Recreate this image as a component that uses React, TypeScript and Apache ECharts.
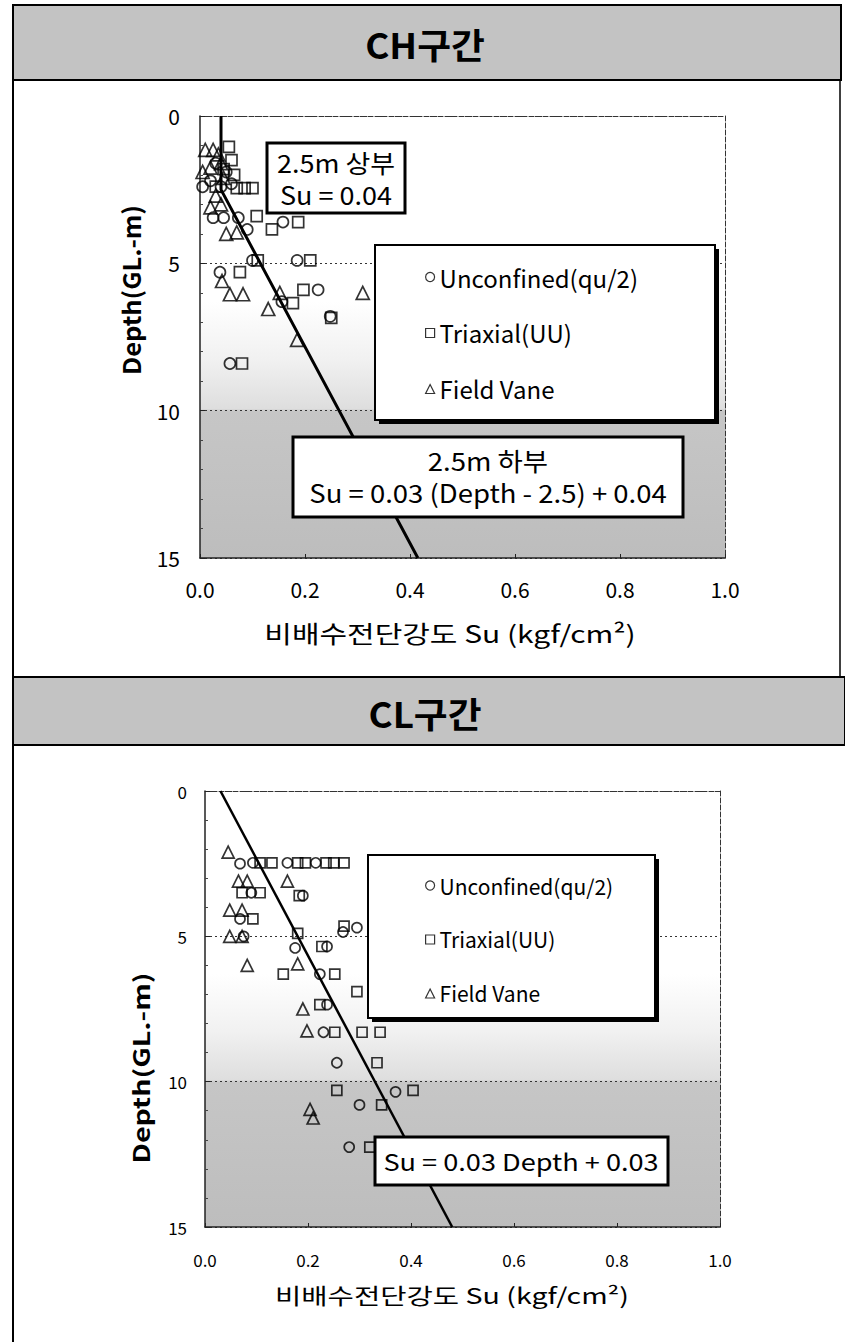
import React, { useEffect, useRef } from "react";
import * as echarts from "echarts";

const FONT = '"Noto Sans CJK KR", "Noto Sans", sans-serif';

// ---- CH section (top) ----
const CH_TITLE = "CH구간";
const CH_UNCONFINED: number[][] = [
  [0.03, 1.6], [0.05, 1.9], [0.02, 2.2], [0.005, 2.4], [0.04, 2.4], [0.06, 2.3],
  [0.025, 3.45], [0.045, 3.45], [0.073, 3.45], [0.158, 3.6], [0.09, 3.85],
  [0.1, 4.9], [0.185, 4.9], [0.038, 5.3], [0.225, 5.9], [0.156, 6.3], [0.248, 6.8], [0.057, 8.4],
];
const CH_TRIAXIAL: number[][] = [
  [0.055, 1.05], [0.06, 1.5], [0.045, 1.8], [0.065, 2.0], [0.03, 2.4], [0.07, 2.45],
  [0.085, 2.45], [0.1, 2.45], [0.108, 3.4], [0.137, 3.85], [0.187, 3.6], [0.11, 4.9],
  [0.21, 4.9], [0.076, 5.3], [0.197, 5.9], [0.177, 6.35], [0.25, 6.85], [0.08, 8.4],
];
const CH_VANE: number[][] = [
  [0.01, 1.15], [0.025, 1.15], [0.035, 1.3], [0.04, 1.6], [0.02, 1.75], [0.005, 1.9],
  [0.045, 2.1], [0.03, 2.7], [0.02, 3.1], [0.04, 3.0], [0.05, 4.0], [0.07, 3.95],
  [0.042, 5.6], [0.057, 6.05], [0.082, 6.05], [0.152, 6.0], [0.31, 6.0], [0.13, 6.55], [0.185, 7.6],
];
const CH_FIT_SU = [0.04, 0.04, 0.415];
const CH_FIT_DEPTH = [0, 2.5, 15];
const CH_NOTE_UPPER = "2.5m 상부\nSu = 0.04";
const CH_NOTE_LOWER = "2.5m 하부\nSu = 0.03 (Depth - 2.5) + 0.04";

// ---- CL section (bottom) ----
const CL_TITLE = "CL구간";
const CL_UNCONFINED: number[][] = [
  [0.068, 2.5], [0.093, 2.47], [0.16, 2.47], [0.215, 2.47], [0.09, 3.5], [0.19, 3.6],
  [0.068, 4.4], [0.075, 5.0], [0.175, 5.4], [0.237, 5.35], [0.295, 4.7], [0.268, 4.85],
  [0.223, 6.3], [0.237, 7.35], [0.23, 8.3], [0.256, 9.35], [0.37, 10.35], [0.3, 10.8], [0.28, 12.25],
];
const CL_TRIAXIAL: number[][] = [
  [0.107, 2.47], [0.13, 2.47], [0.18, 2.47], [0.195, 2.47], [0.235, 2.47], [0.25, 2.47],
  [0.27, 2.47], [0.072, 3.5], [0.107, 3.5], [0.183, 3.6], [0.093, 4.4], [0.18, 4.9],
  [0.227, 5.35], [0.27, 4.65], [0.152, 6.3], [0.252, 6.3], [0.295, 6.9], [0.223, 7.35],
  [0.252, 8.3], [0.305, 8.3], [0.34, 8.3], [0.334, 9.35], [0.256, 10.3], [0.404, 10.3],
  [0.343, 10.8], [0.32, 12.25],
];
const CL_VANE: number[][] = [
  [0.045, 2.1], [0.065, 3.1], [0.082, 3.1], [0.16, 3.1], [0.048, 4.1], [0.072, 4.1],
  [0.048, 5.0], [0.072, 5.0], [0.082, 6.0], [0.18, 5.95], [0.19, 7.5], [0.198, 8.25],
  [0.204, 10.95], [0.21, 11.25],
];
const CL_FIT_SU = [0.03, 0.48];
const CL_FIT_DEPTH = [0, 15];
const CL_NOTE = "Su = 0.03 Depth + 0.03";

// ---- shared ----
const SERIES_NAMES = ["Unconfined(qu/2)", "Triaxial(UU)", "Field Vane"];
const SYMBOLS = ["circle", "rect", "triangle"];
const X_TICKS = [0, 0.2, 0.4, 0.6, 0.8, 1.0];
const Y_TICKS = [0, 5, 10, 15];
const X_NAME = "비배수전단강도 Su (kgf/cm²)";
const Y_NAME = "Depth(GL.-m)";

const bgGradient = {
  type: "linear", x: 0, y: 0, x2: 0, y2: 1,
  colorStops: [
    { offset: 0, color: "#ffffff" },
    { offset: 0.42, color: "#ffffff" },
    { offset: 0.55, color: "#f1f1f1" },
    { offset: 0.662, color: "#dedede" },
    { offset: 0.668, color: "#c6c6c6" },
    { offset: 1, color: "#bdbdbd" },
  ],
};

function zip(a: number[], b: number[]) {
  return a.map((v, i) => [v, b[i]]);
}

export default function App() {
  const ref = useRef<HTMLDivElement>(null);
  useEffect(() => {
    document.body.style.margin = "0";
    const chart = echarts.init(ref.current!, undefined, { renderer: "svg" });

    const scatter = (name: string, sym: string, data: number[][], idx: number, size: number) => ({
      name, type: "scatter", xAxisIndex: idx, yAxisIndex: idx, data,
      symbol: sym, symbolSize: sym === "triangle" ? size + 2 : size,
      itemStyle: { color: "rgba(255,255,255,0)", borderColor: "#000", borderWidth: 1.7 },
      z: 3,
    });

    const xAxis = (idx: number, fs: number, margin: number) => ({
      type: "value", gridIndex: idx, min: X_TICKS[0], max: X_TICKS[X_TICKS.length - 1], interval: 0.2,
      axisLine: { show: true, onZero: false, lineStyle: { color: "#222", width: 1.5 } },
      axisTick: { show: true, inside: true, length: 4, lineStyle: { color: "#222" } },
      axisLabel: { fontSize: fs, color: "#000", fontFamily: FONT, margin, formatter: (v: number) => v.toFixed(1) },
      splitLine: { show: false },
    });
    const xAxisTop = (idx: number) => ({
      type: "value", gridIndex: idx, position: "top", min: X_TICKS[0], max: X_TICKS[X_TICKS.length - 1], interval: 0.2,
      axisLine: { show: true, onZero: false, lineStyle: { color: "#333", width: 1, type: [5, 2] } },
      axisTick: { show: false }, axisLabel: { show: false }, splitLine: { show: false },
    });
    const yAxis = (idx: number, fs: number, margin: number) => ({
      type: "value", gridIndex: idx, inverse: true, min: Y_TICKS[0], max: Y_TICKS[Y_TICKS.length - 1], interval: 5,
      axisLine: { show: true, onZero: false, lineStyle: { color: "#222", width: 1.5 } },
      axisTick: { show: true, inside: true, length: 5, lineStyle: { color: "#222" } },
      minorTick: { show: true, splitNumber: 5, length: 3, lineStyle: { color: "#444" } },
      axisLabel: { fontSize: fs, color: "#000", fontFamily: FONT, margin },
      splitLine: { show: true, lineStyle: { color: "#333", type: [2, 3], width: 1 } },
    });
    const yAxisRight = (idx: number) => ({
      type: "value", gridIndex: idx, position: "right", inverse: true, min: Y_TICKS[0], max: Y_TICKS[Y_TICKS.length - 1], interval: 5,
      axisLine: { show: true, onZero: false, lineStyle: { color: "#333", width: 1, type: [5, 2] } },
      axisTick: { show: false }, axisLabel: { show: false }, splitLine: { show: false },
    });

    const text = (x: number, y: number, t: string, fs: number, extra: any = {}, scaleX = 1) => ({
      type: "text", x, y, z: 120, scaleX,
      style: { text: t, fontSize: fs, fontFamily: FONT, fill: "#000", align: "center", verticalAlign: "middle", ...extra },
    });
    const rect = (x: number, y: number, w: number, h: number, style: any, z = 100) => ({
      type: "rect", shape: { x, y, width: w, height: h }, z, style,
    });

    const legend = (left: number, top: number, fs: number, gap: number, iconSize: number) => ({
      orient: "vertical", left, top, itemGap: gap, itemWidth: iconSize, itemHeight: iconSize,
      selectedMode: false, z: 130, backgroundColor: "transparent",
      textStyle: { fontSize: fs, fontFamily: FONT, color: "#000" },
      itemStyle: { color: "#fff", borderColor: "#000", borderWidth: 1.2 },
      data: SERIES_NAMES.map((n, i) => ({ name: n, icon: SYMBOLS[i] })),
    });

    const option: any = {
      animation: false,
      backgroundColor: "#fff",
      grid: [
        { left: 200, top: 116, width: 525, height: 442, show: true, borderWidth: 0, backgroundColor: bgGradient },
        { left: 205, top: 791, width: 515, height: 436, show: true, borderWidth: 0, backgroundColor: bgGradient },
      ],
      xAxis: [xAxis(0, 21, 20), xAxis(1, 17, 24), xAxisTop(0), xAxisTop(1)],
      yAxis: [yAxis(0, 21, 20), yAxis(1, 17, 18), yAxisRight(0), yAxisRight(1)],
      legend: [legend(420, 260, 24, 32, 9), legend(420, 870, 21, 33, 9)],
      series: [
        scatter(SERIES_NAMES[0], SYMBOLS[0], CH_UNCONFINED, 0, 11),
        scatter(SERIES_NAMES[1], SYMBOLS[1], CH_TRIAXIAL, 0, 11),
        scatter(SERIES_NAMES[2], SYMBOLS[2], CH_VANE, 0, 11),
        {
          name: "CH fit", type: "line", xAxisIndex: 0, yAxisIndex: 0, data: zip(CH_FIT_SU, CH_FIT_DEPTH),
          showSymbol: false, symbol: "none", lineStyle: { color: "#000", width: 3 }, z: 5,
        },
        scatter(SERIES_NAMES[0], SYMBOLS[0], CL_UNCONFINED, 1, 10),
        scatter(SERIES_NAMES[1], SYMBOLS[1], CL_TRIAXIAL, 1, 10),
        scatter(SERIES_NAMES[2], SYMBOLS[2], CL_VANE, 1, 10),
        {
          name: "CL fit", type: "line", xAxisIndex: 1, yAxisIndex: 1, data: zip(CL_FIT_SU, CL_FIT_DEPTH),
          showSymbol: false, symbol: "none", lineStyle: { color: "#000", width: 2.5 }, z: 5,
        },
      ],
      graphic: [
        // frame
        { type: "line", shape: { x1: 13, y1: 5, x2: 13, y2: 1342 }, z: 50, style: { stroke: "#000", lineWidth: 2 } },
        { type: "line", shape: { x1: 840, y1: 80, x2: 840, y2: 677 }, z: 50, style: { stroke: "#000", lineWidth: 1.5 } },
        // header bands
        rect(13, 5, 828, 75, { fill: "#c3c3c3", stroke: "#000", lineWidth: 2 }, 60),
        text(425, 43, CH_TITLE, 35, { fontWeight: "bold" }, 1.05),
        rect(13, 677, 832, 68, { fill: "#c3c3c3", stroke: "#000", lineWidth: 2 }, 60),
        text(425, 712, CL_TITLE, 35, { fontWeight: "bold" }, 1.05),
        // axis names (top)
        { ...text(130, 290, Y_NAME, 24, { fontWeight: "bold" }, 1.06), rotation: Math.PI / 2 },
        text(450, 632, X_NAME, 24, {}, 1.25),
        // axis names (bottom)
        { ...text(140, 1068, Y_NAME, 22, { fontWeight: "bold" }, 1.3), rotation: Math.PI / 2 },
        text(452, 1294, X_NAME, 22, {}, 1.3),
        // top notes
        rect(267, 143, 138, 70, { fill: "#fff", stroke: "#000", lineWidth: 3 }),
        text(336, 178, CH_NOTE_UPPER, 25, { lineHeight: 32 }, 1.08),
        rect(379, 249, 340, 175, { fill: "#000" }, 98),
        rect(375, 245, 340, 175, { fill: "#fff", stroke: "#000", lineWidth: 2 }),
        rect(293, 437, 390, 80, { fill: "#fff", stroke: "#000", lineWidth: 3 }),
        text(488, 477, CH_NOTE_LOWER, 25, { lineHeight: 32 }, 1.1),
        // bottom notes
        rect(372, 859, 287, 163, { fill: "#000" }, 98),
        rect(368, 855, 287, 163, { fill: "#fff", stroke: "#000", lineWidth: 2 }),
        rect(375, 1137, 293, 48, { fill: "#fff", stroke: "#000", lineWidth: 3 }),
        text(521, 1161, CL_NOTE, 23, {}, 1.18),
      ],
    };
    chart.setOption(option);
    return () => chart.dispose();
  }, []);
  return <div ref={ref} style={{ width: 845, height: 1342 }} />;
}
